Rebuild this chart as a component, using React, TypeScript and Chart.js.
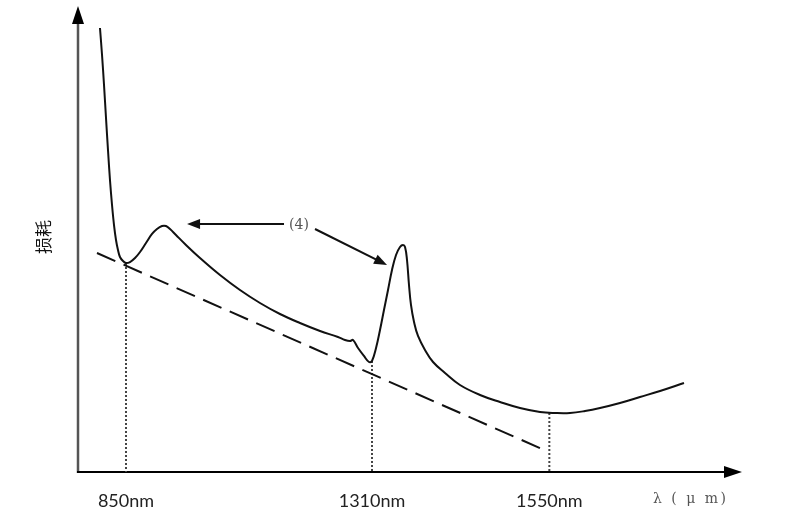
import React, { useEffect, useRef } from 'react';
import { Chart, registerables } from 'chart.js';

Chart.register(...registerables);

// Schematic units: x 0..100 along the wavelength axis, y 0..100 loss (arbitrary)
const curveX = [3.32, 3.63, 3.93, 4.23, 4.53, 4.83, 5.14, 5.44, 5.74, 6.04, 6.34, 6.8, 7.25, 7.85, 8.61, 9.37, 10.27, 11.18, 11.93, 12.69, 13.29, 13.9, 14.8, 16.16, 18.43, 21.45, 24.47, 27.49, 30.51, 33.53, 36.56, 39.27, 40.33, 41.09, 41.54, 42.3, 43.2, 43.96, 44.41, 45.02, 45.62, 46.22, 46.83, 47.43, 48.04, 48.64, 49.09, 49.4, 49.7, 50.0, 50.3, 50.76, 51.36, 52.42, 53.63, 55.44, 57.7, 60.73, 63.75, 66.77, 69.79, 72.05, 74.32, 76.59, 78.85, 81.87, 84.89, 87.92, 91.54];
const curveY = [96.1, 90.26, 83.77, 76.62, 69.7, 63.2, 57.79, 53.46, 50.22, 48.05, 46.54, 45.67, 45.24, 45.45, 46.32, 47.62, 49.57, 51.52, 52.6, 53.25, 53.25, 52.6, 51.3, 49.35, 46.32, 42.64, 39.39, 36.58, 34.2, 32.25, 30.52, 29.22, 28.57, 28.35, 28.57, 26.84, 25.11, 23.81, 24.03, 26.84, 30.74, 35.06, 39.39, 43.72, 46.97, 48.7, 49.13, 48.7, 45.89, 40.48, 36.15, 32.47, 29.44, 26.41, 23.81, 21.43, 18.83, 16.67, 15.15, 13.85, 12.99, 12.77, 12.77, 13.2, 13.85, 14.94, 16.23, 17.53, 19.26];

const baseX = [2.87, 70.09];
const baseY = [47.4, 4.98];

const markX = [7.25, 44.41, 71.2];
const markTop = [45.24, 24.03, 12.77];
const tickLabels = ['850nm', '1310nm', '1550nm'];

const xTitle = 'λ ( μ m)';
const yTitle = '损耗';
const noteText = '(4)';
const noteAt = [33.38, 53.46];
const arrowFromX = [31.12, 35.8];
const arrowFromY = [53.68, 52.6];
const arrowToX = [16.47, 46.68];
const arrowToY = [53.68, 44.81];

function arrowHead(ctx: CanvasRenderingContext2D, fx: number, fy: number, tx: number, ty: number, len: number, half: number) {
  const ang = Math.atan2(ty - fy, tx - fx);
  const bx = tx - Math.cos(ang) * len;
  const by = ty - Math.sin(ang) * len;
  const px = -Math.sin(ang) * half;
  const py = Math.cos(ang) * half;
  ctx.beginPath();
  ctx.moveTo(tx, ty);
  ctx.lineTo(bx + px, by + py);
  ctx.lineTo(bx - px, by - py);
  ctx.closePath();
  ctx.fill();
}

const decor = {
  id: 'decor',
  beforeDatasetsDraw(chart: any) {
    const { ctx, chartArea: a } = chart;
    ctx.save();
    // y axis
    ctx.strokeStyle = '#555';
    ctx.lineWidth = 2.5;
    ctx.beginPath();
    ctx.moveTo(a.left, a.bottom + 1);
    ctx.lineTo(a.left, a.top + 8);
    ctx.stroke();
    ctx.fillStyle = '#000';
    arrowHead(ctx, a.left, a.bottom, a.left, a.top - 4, 18, 6);
    // x axis
    ctx.strokeStyle = '#000';
    ctx.lineWidth = 2;
    ctx.beginPath();
    ctx.moveTo(a.left - 1, a.bottom);
    ctx.lineTo(a.right - 8, a.bottom);
    ctx.stroke();
    arrowHead(ctx, a.left, a.bottom, a.right + 2, a.bottom, 18, 6);
    // y title
    ctx.save();
    ctx.translate(44, (a.top + a.bottom) / 2 - 4);
    ctx.rotate(-Math.PI / 2);
    ctx.font = '17px "Noto Sans CJK SC"';
    ctx.fillStyle = '#111';
    ctx.textAlign = 'center';
    ctx.textBaseline = 'middle';
    ctx.fillText(yTitle, 0, 0);
    ctx.restore();
    // x title
    ctx.font = '14px "DejaVu Serif"';
    ctx.fillStyle = '#555';
    ctx.textAlign = 'left';
    ctx.textBaseline = 'middle';
    (ctx as any).letterSpacing = '2.5px';
    ctx.fillText(xTitle, a.right - 87, a.bottom + 27);
    (ctx as any).letterSpacing = '0px';
    ctx.restore();
  },
  afterDatasetsDraw(chart: any) {
    const { ctx, scales } = chart;
    const x = scales.x;
    const y = scales.y;
    ctx.save();
    ctx.strokeStyle = '#111';
    ctx.fillStyle = '#111';
    ctx.lineWidth = 2;
    for (let i = 0; i < arrowFromX.length; i++) {
      const fx = x.getPixelForValue(arrowFromX[i]);
      const fy = y.getPixelForValue(arrowFromY[i]);
      const tx = x.getPixelForValue(arrowToX[i]);
      const ty = y.getPixelForValue(arrowToY[i]);
      const ang = Math.atan2(ty - fy, tx - fx);
      ctx.beginPath();
      ctx.moveTo(fx, fy);
      ctx.lineTo(tx - Math.cos(ang) * 8, ty - Math.sin(ang) * 8);
      ctx.stroke();
      arrowHead(ctx, fx, fy, tx, ty, 13, 5);
    }
    ctx.font = '14px "DejaVu Serif"';
    ctx.fillStyle = '#555';
    ctx.textAlign = 'center';
    ctx.textBaseline = 'middle';
    ctx.fillText(noteText, x.getPixelForValue(noteAt[0]), y.getPixelForValue(noteAt[1]));
    ctx.restore();
  },
};

export default function App() {
  const ref = useRef<HTMLCanvasElement>(null);
  useEffect(() => {
    if (!ref.current) return;
    const curve = curveX.map((v, i) => ({ x: v, y: curveY[i] }));
    const base = baseX.map((v, i) => ({ x: v, y: baseY[i] }));
    const marks = markX.map((v, i) => ({
      label: 'mark' + i,
      data: [{ x: v, y: markTop[i] }, { x: v, y: 0 }],
      showLine: true,
      borderColor: '#444',
      borderWidth: 2,
      borderDash: [2, 2],
      pointRadius: 0,
      fill: false,
    }));
    const chart = new Chart(ref.current, {
      type: 'scatter',
      data: {
        datasets: [
          {
            label: 'loss',
            data: curve,
            showLine: true,
            borderColor: '#111',
            borderWidth: 2,
            pointRadius: 0,
            tension: 0.4,
            fill: false,
          },
          {
            label: 'base',
            data: base,
            showLine: true,
            borderColor: '#111',
            borderWidth: 2,
            borderDash: [20, 9],
            pointRadius: 0,
            fill: false,
          },
          ...marks,
        ] as any,
      },
      options: {
        animation: false,
        responsive: false,
        events: [],
        layout: { padding: { left: 78, right: 60, top: 10, bottom: 0 } },
        plugins: { legend: { display: false }, tooltip: { enabled: false } },
        scales: {
          x: {
            type: 'linear',
            min: 0,
            max: 100,
            grid: { display: false, drawTicks: false },
            border: { display: false },
            afterBuildTicks: (s: any) => {
              s.ticks = markX.map((v) => ({ value: v }));
            },
            afterFit: (s: any) => {
              s.height = 48;
            },
            ticks: {
              autoSkip: false,
              maxRotation: 0,
              padding: 18,
              color: '#222',
              font: { family: 'Lato', size: 18 },
              callback: (_v: any, i: number) => tickLabels[i],
            },
          },
          y: { type: 'linear', min: 0, max: 100, display: false },
        },
      } as any,
      plugins: [decor],
    });
    return () => chart.destroy();
  }, []);
  return (
    <div style={{ position: 'absolute', left: 0, top: 0, width: 800, height: 520, background: '#fff' }}>
      <canvas ref={ref} width={800} height={520} style={{ width: 800, height: 520 }} />
    </div>
  );
}
